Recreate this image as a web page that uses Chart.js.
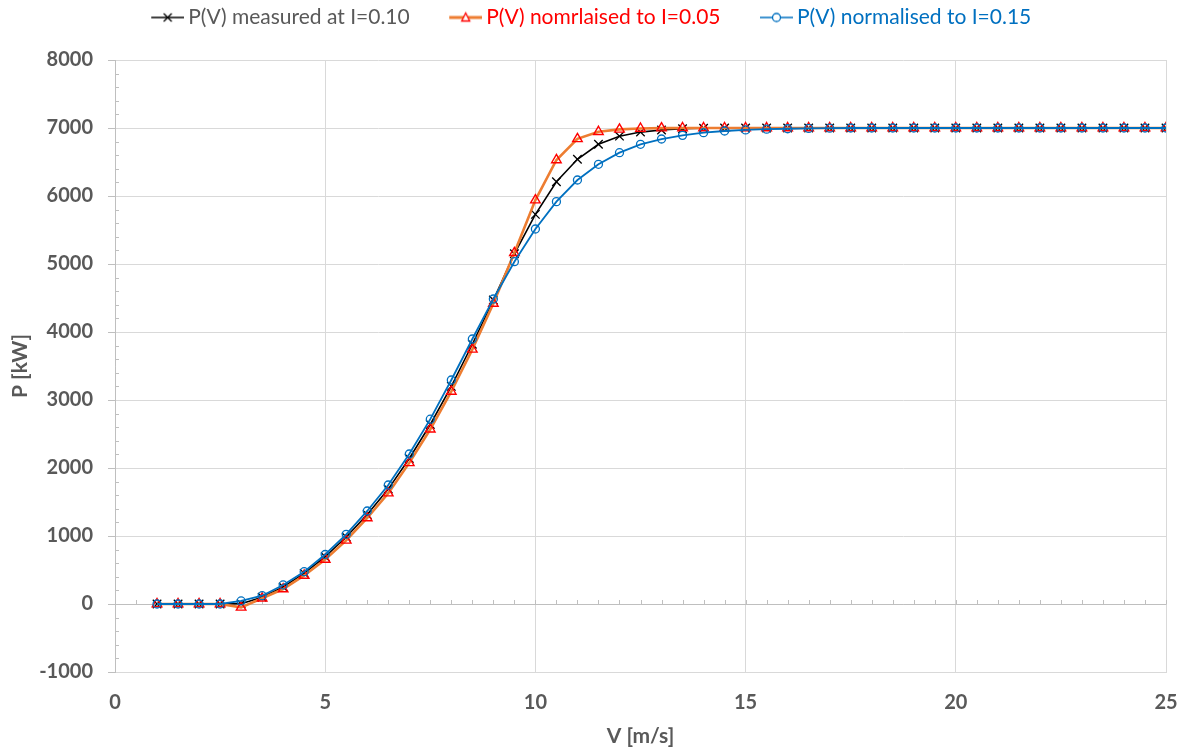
<!DOCTYPE html>
<html>
<head>
<meta charset="utf-8">
<script src="https://cdn.jsdelivr.net/npm/chart.js@4.4.0/dist/chart.umd.min.js"></script>
<style>
  html, body { margin: 0; padding: 0; background: #fff; }
  #wrap { width: 1187px; height: 754px; }
</style>
</head>
<body>
<div id="wrap"><canvas id="chartPV"></canvas></div>
<script>
// ================== DADOS ==================
const speeds = [1, 1.5, 2, 2.5, 3, 3.5, 4, 4.5, 5, 5.5, 6, 6.5, 7, 7.5, 8, 8.5, 9, 9.5,
  10, 10.5, 11, 11.5, 12, 12.5, 13, 13.5, 14, 14.5, 15, 15.5, 16, 16.5, 17, 17.5,
  18, 18.5, 19, 19.5, 20, 20.5, 21, 21.5, 22, 22.5, 23, 23.5, 24, 24.5, 25];

const pMeasured010 = [0, 0, 0, 0, 5, 100, 250, 450, 695, 985, 1315, 1690, 2140, 2640,
  3200, 3820, 4470, 5150, 5730, 6210, 6540, 6760, 6880, 6940, 6970, 6990, 6997, 7000,
  7000, 7000, 7000, 7000, 7000, 7000, 7000, 7000, 7000, 7000, 7000, 7000, 7000, 7000,
  7000, 7000, 7000, 7000, 7000, 7000, 7000];

const pNorm005 = [0, 0, 0, 0, -50, 84, 220, 420, 655, 935, 1265, 1630, 2075, 2570,
  3125, 3745, 4420, 5165, 5940, 6530, 6840, 6945, 6980, 6993, 6998, 7000, 7000, 7000,
  7000, 7000, 7000, 7000, 7000, 7000, 7000, 7000, 7000, 7000, 7000, 7000, 7000, 7000,
  7000, 7000, 7000, 7000, 7000, 7000, 7000];

const pNorm015 = [0, 0, 0, 0, 45, 122, 280, 475, 728, 1025, 1368, 1750, 2206, 2718,
  3294, 3897, 4485, 5034, 5515, 5917, 6235, 6466, 6637, 6760, 6838, 6892, 6931, 6956,
  6971, 6982, 6989, 6994, 6997, 7000, 7000, 7000, 7000, 7000, 7000, 7000, 7000, 7000,
  7000, 7000, 7000, 7000, 7000, 7000, 7000];

const seriesNames = ["P(V) measured at I=0.10", "P(V) nomrlaised to I=0.05", "P(V) normalised to I=0.15"];
const xTicks = [0, 5, 10, 15, 20, 25];
const yTicks = [-1000, 0, 1000, 2000, 3000, 4000, 5000, 6000, 7000, 8000];

const FONT = "Lato, 'Open Sans', sans-serif";
const GRAY_TXT = "#595959";

function pontos(ys) {
  return speeds.map((v, i) => ({ x: v, y: ys[i] }));
}

// icone de legenda: espaco em branco + linha + marcador (um pouco maior que a caixa)
const BOX_W = 59;
const ICON_W = 72;
function iconeLegenda(corLinha, larguraLinha, desenhaMarcador) {
  const c = document.createElement("canvas");
  c.width = ICON_W;
  c.height = 14;
  const g = c.getContext("2d");
  g.translate(ICON_W - 33, 0);
  g.strokeStyle = corLinha;
  g.lineWidth = larguraLinha;
  g.beginPath();
  g.moveTo(0, 7);
  g.lineTo(33, 7);
  g.stroke();
  desenhaMarcador(g);
  return c;
}

const iconeX = iconeLegenda("#000", 1.5, (g) => {
  g.strokeStyle = "#000";
  g.lineWidth = 1.3;
  g.beginPath();
  g.moveTo(12.5, 3); g.lineTo(20.5, 11);
  g.moveTo(20.5, 3); g.lineTo(12.5, 11);
  g.stroke();
});
const iconeTri = iconeLegenda("#ED7D31", 3, (g) => {
  g.strokeStyle = "#FF0000";
  g.fillStyle = "#fff";
  g.lineWidth = 1.3;
  g.beginPath();
  g.moveTo(16.5, 2.5); g.lineTo(20.5, 10.5); g.lineTo(12.5, 10.5); g.closePath();
  g.fill();
  g.stroke();
});
const iconeCirc = iconeLegenda("#0070C0", 1.5, (g) => {
  g.strokeStyle = "#0070C0";
  g.fillStyle = "#fff";
  g.lineWidth = 1.3;
  g.beginPath();
  g.arc(16.5, 7, 4, 0, Math.PI * 2);
  g.fill();
  g.stroke();
});

const legendIcons = [iconeX, iconeTri, iconeCirc];
const legendColors = [GRAY_TXT, "#FF0000", "#0070C0"];

// espaco extra abaixo da legenda + pequeno deslocamento horizontal
const legendaEspaco = {
  id: "legendaEspaco",
  beforeInit(chart) {
    const lg = chart.legend;
    const fitOrig = lg.fit;
    lg.fit = function () {
      fitOrig.call(this);
      this.height += 22;
    };
    const drawOrig = lg.draw;
    lg.draw = function () {
      this.ctx.save();
      this.ctx.translate(-8, 0);
      drawOrig.call(this);
      this.ctx.restore();
    };
  },
};

// eixo em y=0 com marcas menores (estilo Excel)
const eixoZero = {
  id: "eixoZero",
  beforeDatasetsDraw(chart) {
    const { ctx, scales } = chart;
    const x = scales.x, y = scales.y;
    const y0 = y.getPixelForValue(0);
    ctx.save();
    ctx.strokeStyle = "#BFBFBF";
    ctx.lineWidth = 1;
    ctx.beginPath();
    ctx.moveTo(x.left, y0 + 0.5);
    ctx.lineTo(x.right, y0 + 0.5);
    for (let v = 0; v <= 25; v += 0.5) {
      const px = Math.round(x.getPixelForValue(v)) + 0.5;
      ctx.moveTo(px, y0 + 0.5);
      ctx.lineTo(px, y0 - 4);
    }
    for (let p = -1000; p <= 8000; p += 200) {
      const py = Math.round(y.getPixelForValue(p)) + 0.5;
      const major = p % 1000 === 0;
      ctx.moveTo(x.left - (major ? 7 : 0), py);
      ctx.lineTo(x.left + (major ? 0 : 4), py);
    }
    ctx.stroke();
    ctx.restore();
  },
};

const ctx = document.getElementById("chartPV");

new Chart(ctx, {
  type: "line",
  data: {
    datasets: [
      {
        label: seriesNames[0],
        data: pontos(pMeasured010),
        borderColor: "#000000",
        borderWidth: 1.6,
        pointStyle: "crossRot",
        pointRadius: 6,
        pointBorderColor: "#000000",
        pointBorderWidth: 1.3,
        tension: 0,
        order: 3,
      },
      {
        label: seriesNames[1],
        data: pontos(pNorm005),
        borderColor: "#ED7D31",
        borderWidth: 2.6,
        pointStyle: "triangle",
        pointRadius: 5.5,
        pointBorderColor: "#FF0000",
        pointBackgroundColor: "rgba(255,255,255,0)",
        pointBorderWidth: 1.4,
        tension: 0,
        order: 2,
      },
      {
        label: seriesNames[2],
        data: pontos(pNorm015),
        borderColor: "#0070C0",
        borderWidth: 1.8,
        pointStyle: "circle",
        pointRadius: 4,
        pointBorderColor: "#0070C0",
        pointBackgroundColor: "rgba(255,255,255,0)",
        pointBorderWidth: 1.3,
        tension: 0,
        order: 1,
      },
    ],
  },
  options: {
    responsive: true,
    maintainAspectRatio: false,
    animation: false,
    layout: { padding: { left: 0, right: 21, top: 0, bottom: 0 } },
    plugins: {
      tooltip: { enabled: false },
      legend: {
        position: "top",
        align: "center",
        onClick: null,
        labels: {
          usePointStyle: true,
          pointStyleWidth: BOX_W,
          boxHeight: 14,
          padding: 7,
          font: { family: FONT, size: 21 },
          generateLabels: () =>
            seriesNames.map((nome, i) => ({
              text: nome,
              pointStyle: legendIcons[i],
              fontColor: legendColors[i],
              fillStyle: "transparent",
              strokeStyle: "transparent",
              lineWidth: 0,
              hidden: false,
              datasetIndex: i,
            })),
        },
      },
    },
    scales: {
      x: {
        type: "linear",
        min: 0,
        max: 25,
        afterBuildTicks: (axis) => {
          axis.ticks = xTicks.map((v) => ({ value: v }));
        },
        afterFit: (axis) => {
          axis.height = 82;
          axis.paddingLeft = 0;
          axis.paddingRight = 0;
        },
        grid: { color: "#D9D9D9", drawTicks: false },
        border: { color: "#D9D9D9" },
        ticks: {
          color: GRAY_TXT,
          padding: 21,
          callback: (v) => String(v),
          font: { family: FONT, size: 20, weight: "bold", lineHeight: 1 },
        },
        title: {
          display: true,
          text: "V [m/s]",
          color: GRAY_TXT,
          padding: { top: 0, bottom: 7.5 },
          font: { family: FONT, size: 21, weight: "bold", lineHeight: 1 },
        },
      },
      y: {
        type: "linear",
        min: -1000,
        max: 8000,
        afterBuildTicks: (axis) => {
          axis.ticks = yTicks.map((v) => ({ value: v }));
        },
        afterFit: (axis) => {
          axis.width = 115;
          axis.paddingTop = 0;
          axis.paddingBottom = 0;
        },
        grid: { color: "#D9D9D9", drawTicks: false },
        border: { color: "#BFBFBF" },
        ticks: {
          color: GRAY_TXT,
          padding: 22,
          callback: (v) => String(v),
          font: { family: FONT, size: 20, weight: "bold", lineHeight: 1 },
        },
        title: {
          display: true,
          text: "P [kW]",
          color: GRAY_TXT,
          padding: { top: 9.5, bottom: 0 },
          font: { family: FONT, size: 21, weight: "bold", lineHeight: 1 },
        },
      },
    },
  },
  plugins: [eixoZero, legendaEspaco],
});
</script>
</body>
</html>
